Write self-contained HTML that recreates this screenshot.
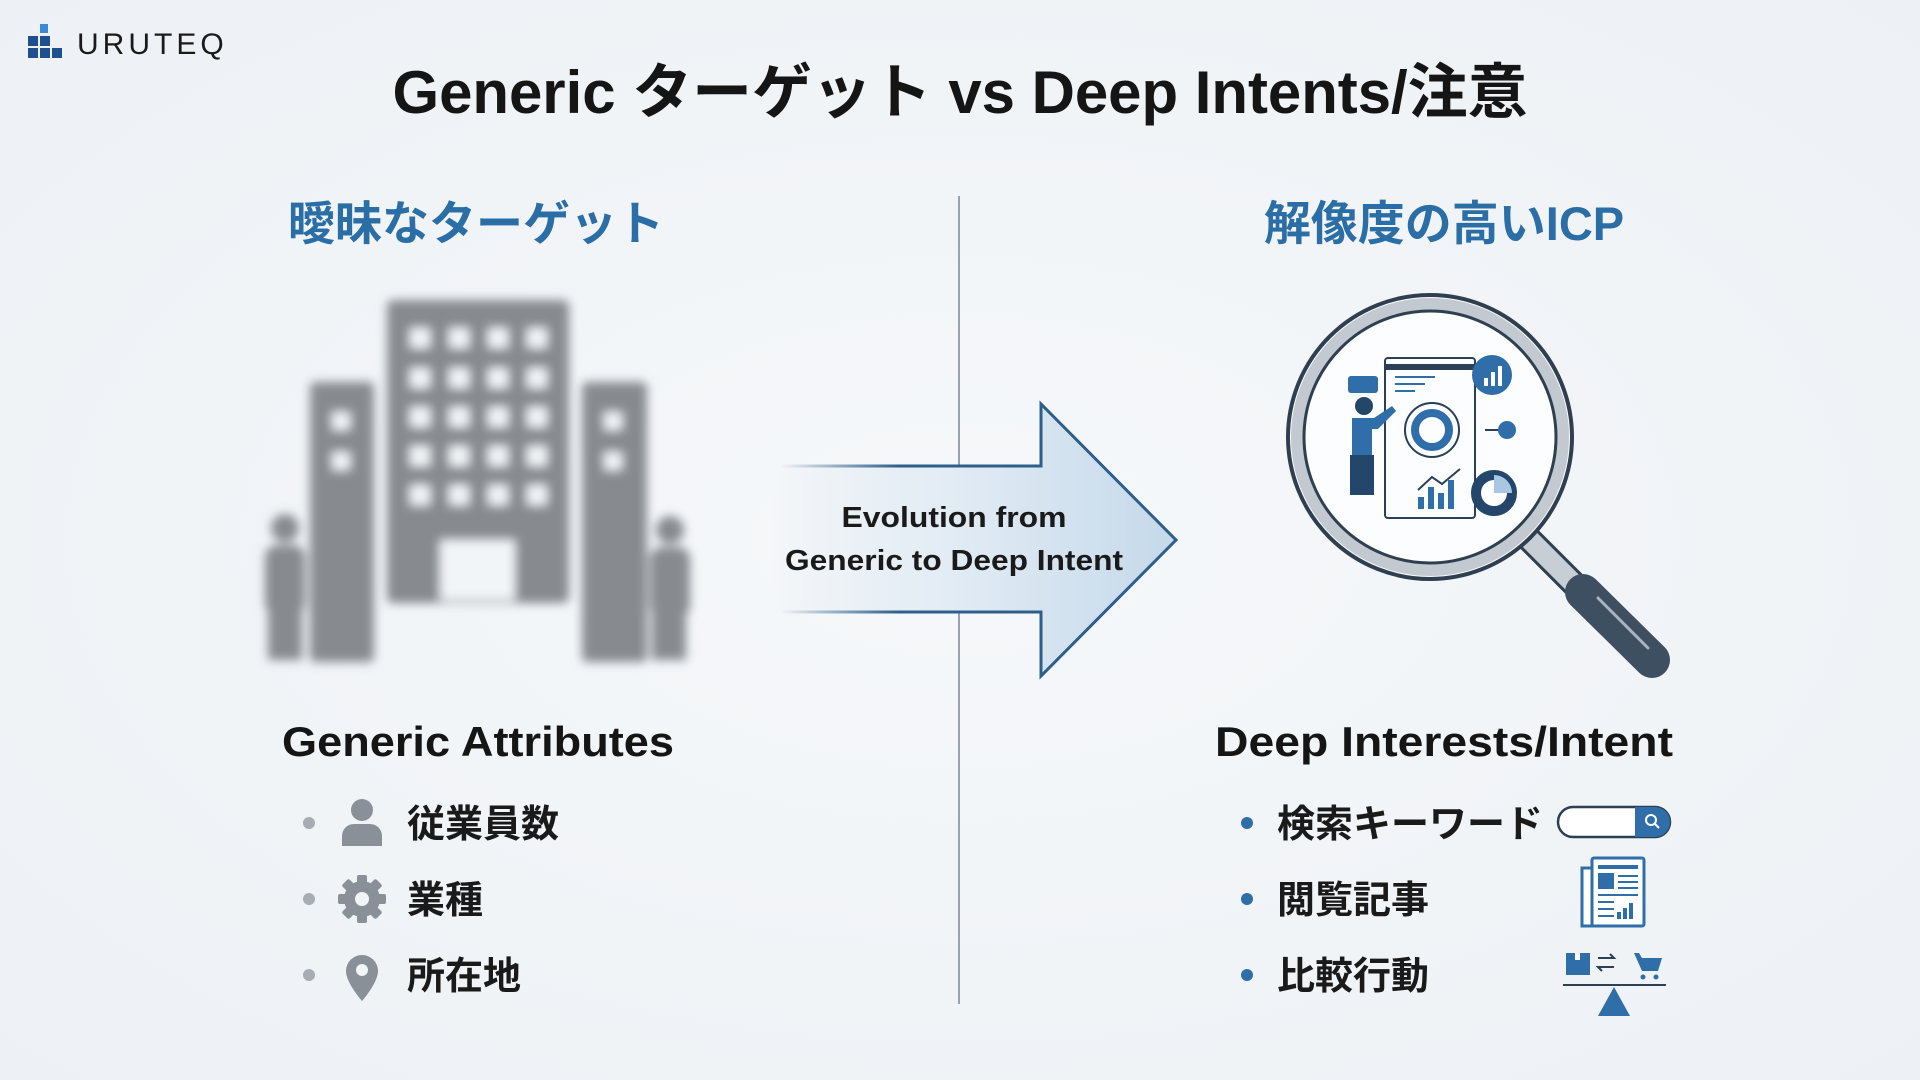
<!DOCTYPE html>
<html><head><meta charset="utf-8"><style>
html,body{margin:0;padding:0;width:1920px;height:1080px;overflow:hidden;background:#f2f5f8}
svg{display:block}
text{font-family:"Liberation Sans","Noto Sans CJK JP",sans-serif}
</style></head><body>
<svg width="1920" height="1080" viewBox="0 0 1920 1080" xmlns="http://www.w3.org/2000/svg">
<defs>
<radialGradient id="bg" cx="50%" cy="50%" r="70%"><stop offset="0" stop-color="#f6f8fa"/><stop offset="1" stop-color="#edf1f5"/></radialGradient>
<linearGradient id="ar" x1="0" x2="1" y1="0" y2="0"><stop offset="0" stop-color="#dde8f1" stop-opacity="0"/><stop offset="0.4" stop-color="#e4edf5"/><stop offset="1" stop-color="#c5d9ea"/></linearGradient>
<linearGradient id="al" x1="0" x2="1"><stop offset="0" stop-color="#2d5f8a" stop-opacity="0"/><stop offset="0.3" stop-color="#2d5f8a"/></linearGradient>
<filter id="bl" x="-10%" y="-10%" width="120%" height="120%"><feGaussianBlur stdDeviation="5"/></filter>
</defs>
<rect width="1920" height="1080" fill="url(#bg)"/>
<!-- logo -->
<g fill="#1e4f8f">
<rect x="40" y="24" width="8" height="9" fill="#3b8ad8"/>
<rect x="28" y="36" width="10" height="10"/><rect x="40" y="36" width="10" height="10"/>
<rect x="28" y="48" width="10" height="10"/><rect x="40" y="48" width="10" height="10"/><rect x="52" y="48" width="10" height="10"/>
</g>
<text x="77" y="54" font-size="30" fill="#1a1a1a" letter-spacing="4">URUTEQ</text>
<!-- title -->
<text x="960" y="113" font-size="60" font-weight="bold" text-anchor="middle" fill="#151515" textLength="1135" lengthAdjust="spacingAndGlyphs">Generic ターゲット vs Deep Intents/注意</text>
<!-- divider -->
<line x1="959" y1="196" x2="959" y2="1004" stroke="#9aa3ab" stroke-width="2"/>
<!-- headings -->
<text x="476" y="240" font-size="47" font-weight="bold" text-anchor="middle" fill="#2b6ea6">曖昧なターゲット</text>
<text x="1444" y="240" font-size="47" font-weight="bold" text-anchor="middle" fill="#2b6ea6">解像度の高いICP</text>
<!-- building blurred -->
<g fill="#878b90" filter="url(#bl)">
<rect x="387" y="300" width="182" height="303" rx="6"/>
<rect x="310" y="382" width="64" height="280" rx="5"/>
<rect x="582" y="382" width="65" height="280" rx="5"/>
<rect x="440" y="540" width="75" height="60" fill="#f2f5f8"/>
<g fill="#f2f5f8">
<rect x="410" y="328" width="20" height="20"/><rect x="449" y="328" width="20" height="20"/><rect x="488" y="328" width="20" height="20"/><rect x="527" y="328" width="20" height="20"/>
<rect x="410" y="368" width="20" height="20"/><rect x="449" y="368" width="20" height="20"/><rect x="488" y="368" width="20" height="20"/><rect x="527" y="368" width="20" height="20"/>
<rect x="410" y="407" width="20" height="20"/><rect x="449" y="407" width="20" height="20"/><rect x="488" y="407" width="20" height="20"/><rect x="527" y="407" width="20" height="20"/>
<rect x="410" y="446" width="20" height="20"/><rect x="449" y="446" width="20" height="20"/><rect x="488" y="446" width="20" height="20"/><rect x="527" y="446" width="20" height="20"/>
<rect x="410" y="485" width="20" height="20"/><rect x="449" y="485" width="20" height="20"/><rect x="488" y="485" width="20" height="20"/><rect x="527" y="485" width="20" height="20"/>
<rect x="332" y="412" width="18" height="18"/><rect x="332" y="452" width="18" height="18"/>
<rect x="604" y="412" width="18" height="18"/><rect x="604" y="452" width="18" height="18"/>
</g>
<circle cx="285" cy="528" r="14"/><rect x="265" y="545" width="40" height="70" rx="12"/><rect x="268" y="600" width="34" height="60"/>
<circle cx="350" cy="530" r="14"/><rect x="328" y="547" width="44" height="70" rx="12"/><rect x="332" y="600" width="36" height="60"/>
<circle cx="605" cy="530" r="14"/><rect x="583" y="547" width="44" height="70" rx="12"/><rect x="586" y="600" width="36" height="60"/>
<circle cx="670" cy="530" r="14"/><rect x="650" y="547" width="40" height="70" rx="12"/><rect x="652" y="600" width="34" height="60"/>
</g>
<!-- arrow -->
<path d="M771 466 L1041 466 L1041 404 L1176 540 L1041 676 L1041 612 L771 612 Z" fill="url(#ar)"/>
<path d="M780 466 L1041 466 L1041 404 L1176 540 L1041 676 L1041 612 L780 612" fill="none" stroke="url(#al)" stroke-width="3"/>
<text x="954" y="527" font-size="29" font-weight="bold" text-anchor="middle" fill="#1a1a1a" textLength="225" lengthAdjust="spacingAndGlyphs">Evolution from</text>
<text x="954" y="570" font-size="29" font-weight="bold" text-anchor="middle" fill="#1a1a1a" textLength="338" lengthAdjust="spacingAndGlyphs">Generic to Deep Intent</text>
<!-- magnifier -->
<line x1="1525" y1="535" x2="1585" y2="595" stroke="#2f3f50" stroke-width="26"/>
<line x1="1525" y1="535" x2="1585" y2="595" stroke="#c7ced5" stroke-width="20"/>
<line x1="1583" y1="592" x2="1652" y2="660" stroke="#3e4f61" stroke-width="36" stroke-linecap="round"/>
<line x1="1598" y1="598" x2="1648" y2="648" stroke="#a9b4bf" stroke-width="3" stroke-linecap="round"/>
<circle cx="1430" cy="437" r="142" fill="#fbfcfd" stroke="#2f3f50" stroke-width="4"/>
<circle cx="1430" cy="437" r="133" fill="none" stroke="#c2c9d0" stroke-width="12"/>
<circle cx="1430" cy="437" r="126" fill="#fcfdfe" stroke="#2f3f50" stroke-width="3"/>
<g stroke="#2b3f57" fill="none" stroke-width="2">
<rect x="1385" y="358" width="90" height="160" rx="3"/>
<line x1="1385" y1="367" x2="1475" y2="367" stroke-width="6"/>
</g>
<g stroke="#2f6ea8" stroke-width="2" fill="none"><line x1="1395" y1="377" x2="1435" y2="377"/><line x1="1395" y1="384" x2="1425" y2="384"/><line x1="1395" y1="391" x2="1415" y2="391"/></g>
<circle cx="1432" cy="430" r="27" fill="none" stroke="#2b3f57" stroke-width="2"/>
<circle cx="1432" cy="430" r="17" fill="none" stroke="#2f6ea8" stroke-width="8"/>
<circle cx="1492" cy="375" r="20" fill="#2f6ea8"/>
<g fill="#fff"><rect x="1484" y="378" width="4" height="8"/><rect x="1491" y="372" width="4" height="14"/><rect x="1498" y="366" width="4" height="20"/></g>
<circle cx="1507" cy="430" r="9" fill="#2f6ea8"/>
<line x1="1485" y1="430" x2="1498" y2="430" stroke="#2b3f57" stroke-width="2"/>
<circle cx="1494" cy="493" r="18" fill="none" stroke="#24466a" stroke-width="10"/>
<path d="M1494 475 A18 18 0 0 1 1512 493 L1494 493 Z" fill="#a9c7e3"/>
<g fill="#2f6ea8"><rect x="1418" y="497" width="6" height="12"/><rect x="1428" y="487" width="6" height="22"/><rect x="1438" y="493" width="6" height="16"/><rect x="1448" y="480" width="6" height="29"/></g>
<polyline points="1418,490 1432,477 1442,484 1460,469" fill="none" stroke="#2b3f57" stroke-width="2"/>
<rect x="1348" y="376" width="30" height="17" rx="3" fill="#2f6ea8"/>
<circle cx="1364" cy="406" r="9" fill="#24466a"/>
<path d="M1352 418 h22 l18 -12 4 5 -18 18 h-6 v30 h-20 z" fill="#2f6ea8"/>
<rect x="1350" y="455" width="24" height="40" fill="#24466a"/>
<!-- attribute headings -->
<text x="478" y="756" font-size="42" font-weight="bold" text-anchor="middle" fill="#151515" textLength="392" lengthAdjust="spacingAndGlyphs">Generic Attributes</text>
<text x="1444" y="756" font-size="42" font-weight="bold" text-anchor="middle" fill="#151515" textLength="458" lengthAdjust="spacingAndGlyphs">Deep Interests/Intent</text>
<!-- left list -->
<g fill="#a7adb3"><circle cx="309" cy="823" r="6"/><circle cx="309" cy="899" r="6"/><circle cx="309" cy="975" r="6"/></g>
<g fill="#8a9097">
<circle cx="362" cy="810" r="11"/><path d="M342 846 v-10 a12 12 0 0 1 12 -12 h16 a12 12 0 0 1 12 12 v10 z"/>
<circle cx="362" cy="899" r="18"/>
<path d="M362 955 a16 16 0 0 1 16 16 c0 12 -16 30 -16 30 c0 0 -16 -18 -16 -30 a16 16 0 0 1 16 -16z"/>
</g>
<g fill="#8a9097"><rect x="357" y="875" width="10" height="48" rx="2"/><rect x="338" y="894" width="48" height="10" rx="2"/><rect x="357" y="875" width="10" height="48" rx="2" transform="rotate(45 362 899)"/><rect x="357" y="875" width="10" height="48" rx="2" transform="rotate(-45 362 899)"/></g>
<circle cx="362" cy="899" r="7" fill="#f2f5f8"/>
<circle cx="362" cy="970" r="6" fill="#f2f5f8"/>
<g font-size="38" font-weight="bold" fill="#1a1a1a">
<text x="407" y="837">従業員数</text><text x="407" y="913">業種</text><text x="407" y="989">所在地</text>
</g>
<!-- right list -->
<g fill="#2f6ea8"><circle cx="1247" cy="823" r="6"/><circle cx="1247" cy="899" r="6"/><circle cx="1247" cy="975" r="6"/></g>
<g font-size="38" font-weight="bold" fill="#1a1a1a">
<text x="1277" y="837">検索キーワード</text><text x="1277" y="913">閲覧記事</text><text x="1277" y="989">比較行動</text>
</g>
<!-- search bar -->
<rect x="1558" y="807" width="112" height="30" rx="15" fill="#fff" stroke="#2b3f57" stroke-width="2.5"/>
<path d="M1635 807 h20 a15 15 0 0 1 0 30 h-20 z" fill="#2f6ea8"/>
<circle cx="1651" cy="820" r="5" fill="none" stroke="#fff" stroke-width="2"/><line x1="1655" y1="824" x2="1659" y2="828" stroke="#fff" stroke-width="2"/>
<!-- newspaper -->
<rect x="1582" y="868" width="10" height="58" fill="#fff" stroke="#2f6ea8" stroke-width="3"/>
<rect x="1592" y="858" width="52" height="68" rx="2" fill="#fff" stroke="#2f6ea8" stroke-width="3"/>
<rect x="1598" y="865" width="40" height="4" fill="#2f6ea8"/>
<rect x="1598" y="873" width="16" height="16" fill="#2f6ea8"/>
<g stroke="#2f6ea8" stroke-width="2"><line x1="1618" y1="876" x2="1638" y2="876"/><line x1="1618" y1="882" x2="1638" y2="882"/><line x1="1618" y1="888" x2="1638" y2="888"/><line x1="1598" y1="895" x2="1638" y2="895"/><line x1="1598" y1="902" x2="1614" y2="902"/><line x1="1598" y1="909" x2="1614" y2="909"/><line x1="1598" y1="916" x2="1614" y2="916"/></g>
<g fill="#2f6ea8"><rect x="1617" y="912" width="4" height="7"/><rect x="1623" y="908" width="4" height="11"/><rect x="1629" y="903" width="4" height="16"/></g>
<!-- compare -->
<rect x="1566" y="953" width="24" height="22" fill="#2f6ea8"/><rect x="1575" y="953" width="5" height="7" fill="#fff"/>
<g stroke="#2b3f57" stroke-width="2" fill="none"><path d="M1598 958 h16 l-4 -4"/><path d="M1614 967 h-16 l4 4"/></g>
<path d="M1634 953 h5 l3 5 h20 l-4 13 h-16 z" fill="#2f6ea8"/>
<circle cx="1643" cy="977" r="2.5" fill="#2f6ea8"/><circle cx="1656" cy="977" r="2.5" fill="#2f6ea8"/>
<line x1="1563" y1="985" x2="1666" y2="985" stroke="#2b3f57" stroke-width="2"/>
<path d="M1614 987 L1630 1016 L1598 1016 Z" fill="#2f6ea8"/>
</svg>
</body></html>
